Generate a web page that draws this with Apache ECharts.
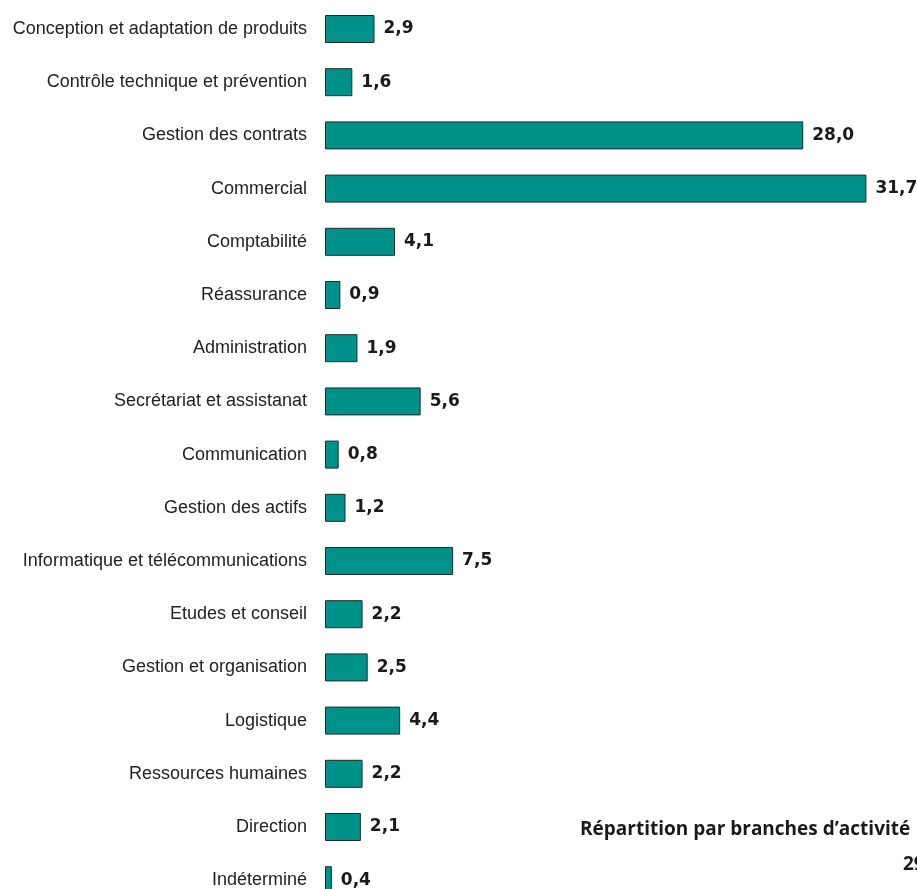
<!DOCTYPE html>
<html>
<head>
<meta charset="utf-8">
<script src="https://cdn.jsdelivr.net/npm/echarts@6/dist/echarts.min.js"></script>
<style>
  html, body { margin: 0; padding: 0; background: #ffffff; }
  #chart { width: 917px; height: 889px; }
</style>
</head>
<body>
<div id="chart"></div>
<script>
// Branches d'activité (part en %)
const categories = [
  "Conception et adaptation de produits",
  "Contrôle technique et prévention",
  "Gestion des contrats",
  "Commercial",
  "Comptabilité",
  "Réassurance",
  "Administration",
  "Secrétariat et assistanat",
  "Communication",
  "Gestion des actifs",
  "Informatique et télécommunications",
  "Etudes et conseil",
  "Gestion et organisation",
  "Logistique",
  "Ressources humaines",
  "Direction",
  "Indéterminé"
];
const shares = [2.9, 1.6, 28.0, 31.7, 4.1, 0.9, 1.9, 5.6, 0.8, 1.2, 7.5, 2.2, 2.5, 4.4, 2.2, 2.1, 0.4];
const chartTitle = "Répartition par branches d’activité";
const pageNumber = "29";

const chart = echarts.init(document.getElementById('chart'), null, { renderer: 'canvas' });

chart.setOption({
  animation: false,
  backgroundColor: '#ffffff',
  // the last row runs past the bottom edge of the page
  grid: {
    left: 325, width: 580.7, top: 2.4, height: 904.4,
    outerBoundsMode: 'none', containLabel: false
  },
  xAxis: {
    type: 'value', min: 0, max: 34, show: false
  },
  yAxis: {
    type: 'category',
    data: categories,
    inverse: true,
    axisLine: { show: false },
    axisTick: { show: false },
    splitLine: { show: false },
    axisLabel: {
      margin: 18,
      color: '#222222',
      fontFamily: 'Liberation Sans, Arial, sans-serif',
      fontSize: 18
    }
  },
  series: [{
    type: 'bar',
    data: shares,
    barWidth: 28,
    itemStyle: { color: '#00928a', borderColor: '#1f2a2a', borderWidth: 1 },
    label: {
      show: true,
      position: 'right',
      distance: 9,
      formatter: p => p.value.toFixed(1).replace('.', ','),
      fontFamily: 'DejaVu Sans, sans-serif',
      fontWeight: 'bold',
      fontSize: 17,
      color: '#1a1a1a'
    }
  }],
  graphic: [
    {
      type: 'text', left: 580, top: 820,
      style: {
        text: chartTitle,
        font: 'bold 19px "Open Sans", sans-serif',
        fill: '#1a1a1a'
      }
    },
    {
      type: 'text', left: 903, top: 855,
      style: {
        text: pageNumber,
        font: 'bold 19px "Open Sans", sans-serif',
        fill: '#1a1a1a'
      }
    }
  ]
});
</script>
</body>
</html>
